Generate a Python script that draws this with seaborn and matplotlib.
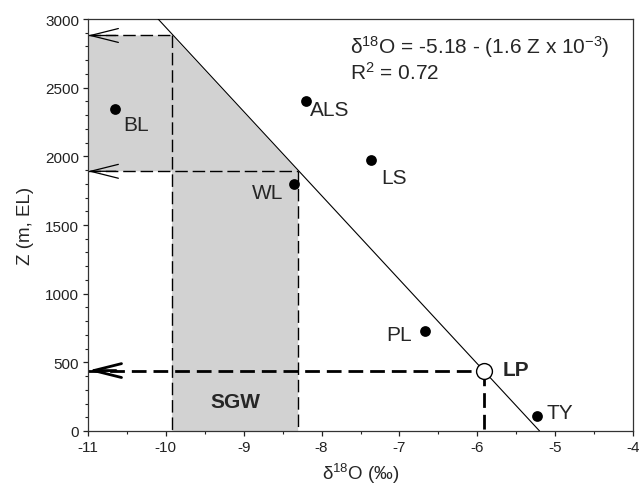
import numpy as np
import pandas as pd
import matplotlib
matplotlib.use("Agg")
import matplotlib.pyplot as plt
import seaborn as sns

# ---- data ----
sites = ["BL", "ALS", "LS", "WL", "PL", "TY"]
d18o = [-10.65, -8.20, -7.37, -8.36, -6.67, -5.23]
elev = [2345, 2405, 1975, 1795, 726, 107]

lp_d18o = -5.92
lp_elev = 440

line_d18o = [-10.10, -5.20]
line_elev = [3000, 0]

sgw_x = [-9.92, -8.30]
sgw_z = [1891, 2880]

xticks = [-11, -10, -9, -8, -7, -6, -5, -4]
yticks = [0, 500, 1000, 1500, 2000, 2500, 3000]

# ---- style ----
sns.set_style("ticks")
plt.rcParams["font.family"] = ["Liberation Sans", "DejaVu Sans"]
plt.rcParams["mathtext.fontset"] = "custom"
plt.rcParams["mathtext.rm"] = "Liberation Sans"
plt.rcParams["mathtext.it"] = "Liberation Sans:italic"
plt.rcParams["mathtext.bf"] = "Liberation Sans:bold"
plt.rcParams["axes.unicode_minus"] = False

fig = plt.figure(figsize=(6.44, 4.89), dpi=100)
ax = fig.add_axes([88 / 644, 1 - 432 / 489, (633 - 88) / 644, (432 - 20) / 489])

gray = "#d2d2d2"
xl, xr = sgw_x
zl, zu = sgw_z
# shaded SGW region
ax.fill([-11, -11, xl, xr, xr, xl, xl],
        [zl, zu, zu, zl, 0, 0, zl], color=gray, lw=0, zorder=1)

# thin dashed guide lines
dkw = dict(color="black", lw=1.0, dashes=(9, 3.5), zorder=2)
ax.plot([-11, xl], [zu, zu], **dkw)
ax.plot([xl, xl], [zu, 0], **dkw)
ax.plot([-11, xr], [zl, zl], **dkw)
ax.plot([xr, xr], [zl, 0], **dkw)

# thick dashed LP guide lines
tkw = dict(color="black", lw=2.0, dashes=(5.3, 2.5), zorder=2)
ax.plot([-11, lp_d18o], [lp_elev, lp_elev], **tkw)
ax.plot([lp_d18o, lp_d18o], [lp_elev, 0], **tkw)

# arrowheads at left axis
for z, lw in [(zu, 0.9), (zl, 0.9), (lp_elev, 2.0)]:
    ax.annotate("", xy=(-11, z), xytext=(-10.64, z),
                arrowprops=dict(arrowstyle="->,head_length=2.0,head_width=0.5",
                                lw=lw, color="black", shrinkA=0, shrinkB=0,
                                mutation_scale=10),
                zorder=3, annotation_clip=False)

# regression line
line_df = pd.DataFrame({"d18o": line_d18o, "elev": line_elev})
sns.lineplot(data=line_df, x="d18o", y="elev", color="black", lw=0.8,
             ax=ax, zorder=3, sort=False)

# sample points
pts = pd.DataFrame({"site": sites, "d18o": d18o, "elev": elev})
sns.scatterplot(data=pts, x="d18o", y="elev", color="black", s=60,
                edgecolor="black", linewidth=0, ax=ax, zorder=4)

# LP open circle
ax.scatter([lp_d18o], [lp_elev], s=130, facecolor="white", edgecolor="black",
           linewidth=1.0, zorder=5)

# labels
offsets = {"BL": (6, -11, "left"), "ALS": (3, -6, "left"), "LS": (8, -13, "left"),
           "WL": (-7.5, -5.5, "right"), "PL": (-9.5, -2, "right"), "TY": (7, 3, "left")}
for s, x, z in zip(sites, d18o, elev):
    dx, dy, ha = offsets[s]
    ax.annotate(s, (x, z), xytext=(dx, dy), textcoords="offset points",
                ha=ha, va="center", fontsize=15, zorder=6)
ax.annotate("LP", (lp_d18o, lp_elev), xytext=(14, 0.5), textcoords="offset points",
            ha="left", va="center", fontsize=15, fontweight="bold", zorder=6)
ax.text((xl + xr) / 2, 213, "SGW", ha="center", va="center", fontsize=15,
        fontweight="bold", zorder=6)

# equation
ax.text(0.48, 0.919, r"δ$^{18}$O = -5.18 - (1.6 Z x 10$^{-3}$)", transform=ax.transAxes,
        fontsize=15, ha="left", va="baseline")
ax.text(0.48, 0.854, r"R$^{2}$ = 0.72", transform=ax.transAxes,
        fontsize=15, ha="left", va="baseline")

# axes
ax.set_xlim(-11, -4)
ax.set_ylim(0, 3000)
ax.set_xticks(xticks)
ax.set_yticks(yticks)
ax.set_xticks(np.arange(-10.5, -4, 1.0), minor=True)
ax.set_yticks([v for v in range(0, 3001, 100) if v % 500], minor=True)
ax.set_xticklabels([str(t) for t in xticks])
ax.tick_params(axis="both", which="major", direction="out", length=3.5, width=0.9,
               labelsize=11, colors="#222222", pad=3)
ax.tick_params(axis="both", which="minor", direction="out", length=2.3, width=0.8,
               colors="#222222")
for sp in ax.spines.values():
    sp.set_visible(True)
    sp.set_linewidth(0.9)
    sp.set_color("#333333")

ax.set_xlabel(r"δ$^{18}$O (‰)", fontsize=13.5, labelpad=5)
ax.set_ylabel("Z (m, EL)", fontsize=13.5, labelpad=8)

fig.savefig("out.png", dpi=100)
